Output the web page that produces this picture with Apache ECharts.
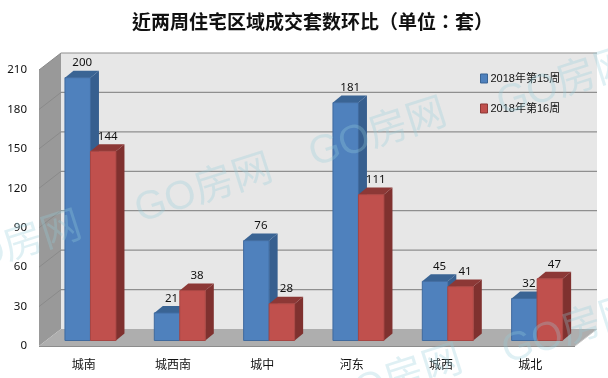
<!DOCTYPE html>
<html><head><meta charset="utf-8">
<style>html,body{margin:0;padding:0;background:#fff}#c{width:608px;height:378px}</style>
<script src="https://cdn.jsdelivr.net/npm/echarts@6/dist/echarts.min.js"></script>
</head><body><div id="c"></div>
<script>
const titleText = '近两周住宅区域成交套数环比（单位：套）';
const categories = ['城南','城西南','城中','河东','城西','城北'];
const week15 = [200,21,76,181,45,32];
const week16 = [144,38,28,111,41,47];
const ticks = [0,30,60,90,120,150,180,210];
const seriesNames = ['2018年第15周','2018年第16周'];
const watermarks = [
  {x:204,y:190,t:'GO房网'},{x:378,y:134,t:'GO房网'},{x:566,y:83,t:'GO房网'},
  {x:13,y:247,t:'GO房网'},{x:571,y:331,t:'GO房网'},{x:394,y:381,t:'GO房网'}
];
const DX=22, DY=-17;
const chart = echarts.init(document.getElementById('c'),null,{renderer:'canvas'});
function poly(points,fill,stroke){
  return {type:'polygon',shape:{points},style:{fill,stroke:stroke||fill,lineWidth:stroke?1:0}};
}
function wallItem(params,api){
  const g=params.coordSys, x0=g.x, x1=g.x+g.width, y0=api.coord([0,0])[1], yT=api.coord([0,210])[1];
  const children=[
    poly([[x0+DX,yT+DY],[x1+DX,yT+DY],[x1+DX,y0+DY],[x0+DX,y0+DY]],'#e7e7e7'),
    poly([[x0,yT],[x0+DX,yT+DY],[x0+DX,y0+DY],[x0,y0]],'#999999'),
    poly([[x0,y0],[x0+DX,y0+DY],[x1+DX,y0+DY],[x1,y0]],'#aeaeae'),
    {type:'line',shape:{x1:x0,y1:y0+0.5,x2:x1,y2:y0+0.5},style:{stroke:'#8c8c8c',lineWidth:1}},
    {type:'line',shape:{x1:x1,y1:y0,x2:x1+DX,y2:y0+DY},style:{stroke:'#c8c8c8',lineWidth:1}}
  ];
  ticks.forEach(t=>{
    if(t===0) return;
    const y=api.coord([0,t])[1];
    children.push({type:'line',shape:{x1:x0,y1:y,x2:x0+DX,y2:y+DY},style:{stroke:'#8a8a8a',lineWidth:1}});
    children.push({type:'line',shape:{x1:x0+DX,y1:y+DY,x2:x1+DX,y2:y+DY},style:{stroke:'#8f8f8f',lineWidth:1.2}});
  });
  return {type:'group',children};
}
function barRenderer(side,colors){
  return function(params,api){
    const idx=api.value(0), val=api.value(1);
    const c=api.coord([idx,val]), b=api.coord([idx,0]);
    const w=25.5, dx=8.5, dy=-7, sx=6.8, sy=-5.5;
    const xL=c[0]+sx+(side<0?-w:0), xR=xL+w, yT=c[1]+sy, yB=b[1]+sy;
    return {type:'group',children:[
      poly([[xR,yT],[xR+dx,yT+dy],[xR+dx,yB+dy],[xR,yB]],colors.side),
      poly([[xL,yT],[xL+dx,yT+dy],[xR+dx,yT+dy],[xR,yT]],colors.top),
      {type:'rect',shape:{x:xL,y:yT,width:w,height:yB-yT},style:{fill:colors.front,stroke:colors.edge,lineWidth:1}},
      {type:'text',style:{x:xL+w/2+4.5,y:yT-14.5,text:String(val),fill:'#111',
        font:'11.5px "Noto Sans"',align:'center',verticalAlign:'middle'}}
    ]};
  };
}
chart.setOption({
  animation:false,
  backgroundColor:'#fff',
  title:{text:titleText,left:132,top:12,padding:0,textStyle:{fontFamily:'"Noto Sans CJK TC"',fontSize:19,fontWeight:'bold',color:'#111'}},
  legend:{orient:'vertical',left:475,top:68,itemWidth:7,itemHeight:9,itemGap:19,
    data:seriesNames.map((n,i)=>({name:n,icon:'rect',itemStyle:{color:i?'#c0504d':'#4f81bd',borderColor:i?'#8c3836':'#3a6494',borderWidth:1}})),
    textStyle:{fontFamily:'"Liberation Sans","Noto Sans CJK SC"',fontSize:11,color:'#111',padding:[0,0,0,-2]}},
  grid:{left:39,top:70,width:536,height:276},
  xAxis:{type:'category',data:categories,axisLine:{show:false},axisTick:{show:false},
    axisLabel:{margin:12,fontFamily:'"Noto Sans CJK SC"',fontSize:12,color:'#111'}},
  yAxis:{type:'value',min:0,max:210,interval:30,splitLine:{show:false},axisLine:{show:false},axisTick:{show:false},
    axisLabel:{margin:12,fontFamily:'"Noto Sans"',fontSize:11.5,color:'#111'}},
  series:[
    {type:'custom',name:'walls',silent:true,z:1,clip:false,renderItem:wallItem,data:[[0,0]],encode:{x:0,y:1}},
    {type:'custom',name:seriesNames[0],z:2,clip:false,itemStyle:{color:'#4f81bd'},
      renderItem:barRenderer(-1,{front:'#4f81bd',side:'#375f8f',top:'#3a6494',edge:'#3f6a9e'}),
      data:week15.map((v,i)=>[i,v]),encode:{x:0,y:1}},
    {type:'custom',name:seriesNames[1],z:3,clip:false,itemStyle:{color:'#c0504d'},
      renderItem:barRenderer(1,{front:'#c0504d',side:'#7f312f',top:'#8c3836',edge:'#a84643'}),
      data:week16.map((v,i)=>[i,v]),encode:{x:0,y:1}}
  ],
  graphic:watermarks.map(w=>({type:'text',x:w.x,y:w.y,rotation:0.31,z:100,silent:true,
    style:{text:w.t,fill:'rgba(150,205,220,0.3)',align:'center',verticalAlign:'middle',font:'40px "Liberation Sans","Noto Sans CJK SC"'}}))
});
</script></body></html>
